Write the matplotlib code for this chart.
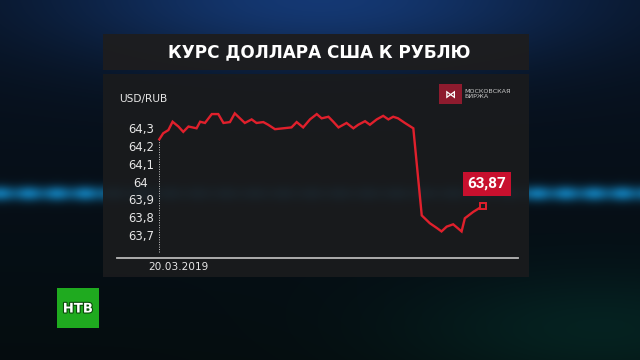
import numpy as np
import matplotlib
matplotlib.use("Agg")
import matplotlib.pyplot as plt
from matplotlib.patches import Rectangle
import matplotlib.transforms as mtransforms
import matplotlib.patheffects as pe

# ---- data ----
title = "КУРС ДОЛЛАРА США К РУБЛЮ"
pair_label = "USD/RUB"
date_label = "20.03.2019"
last_label = "63,87"
exchange_name = "МОСКОВСКАЯ\nБИРЖА"
ytick_values = [63.7, 63.8, 63.9, 64.0, 64.1, 64.2, 64.3]
ytick_labels = ["63,7", "63,8", "63,9", "64", "64,1", "64,2", "64,3"]

# time (arbitrary intraday units) and USD/RUB rate
t = [0.0, 1.2, 2.8, 4.1, 5.9, 7.4, 9.0, 11.5, 12.6, 14.1, 16.2, 18.2, 19.8,
     21.8, 23.3, 24.9, 26.4, 28.5, 30.0, 32.1, 33.6, 35.7, 40.8, 42.4, 44.4,
     46.5, 48.6, 50.1, 52.2, 53.7, 55.3, 57.8, 59.9, 61.4, 63.5, 65.0, 67.1,
     69.1, 70.7, 72.2, 73.7, 75.8, 78.4, 81.0, 83.5, 85.6, 87.1, 88.7, 90.7,
     93.3, 94.3, 96.9, 100.0]
usd_rub = [64.238, 64.272, 64.290, 64.337, 64.310, 64.280, 64.310, 64.300,
           64.337, 64.330, 64.380, 64.380, 64.330, 64.335, 64.384, 64.356,
           64.330, 64.350, 64.330, 64.335, 64.320, 64.295, 64.305, 64.335,
           64.305, 64.350, 64.380, 64.356, 64.365, 64.337, 64.305, 64.330,
           64.300, 64.320, 64.340, 64.320, 64.350, 64.370, 64.350, 64.365,
           64.356, 64.330, 64.300, 63.810, 63.766, 63.740, 63.720, 63.747,
           63.760, 63.720, 63.794, 63.830, 63.865]

W, H = 640, 360
fig = plt.figure(figsize=(6.4, 3.6), dpi=100)
fig.patch.set_facecolor("#060d18")

# ---- background (decorative) ----
bg = fig.add_axes([0, 0, 1, 1], zorder=-10)
yy, xx = np.mgrid[0:H, 0:W].astype(float)
img = np.zeros((H, W, 3))
base_top = np.array([0.03, 0.07, 0.13])
base_bot = np.array([0.02, 0.05, 0.06])
f = (yy / H)[..., None]
img[:] = base_top * (1 - f) + base_bot * f
g = np.exp(-(((xx - 320) / 260) ** 2) - ((yy - 0) / 70) ** 2)
img += g[..., None] * np.array([0.05, 0.15, 0.32])
band = np.exp(-((yy - 193) / 8) ** 2) * (0.75 + 0.25 * np.cos(xx / 9.0) ** 2)
img += band[..., None] * np.array([0.04, 0.38, 0.55])
gg = np.exp(-((yy - 330) / 60) ** 2) * np.exp(-((xx - 600) / 200) ** 2)
img += gg[..., None] * np.array([0.0, 0.08, 0.06])
img = np.clip(img, 0, 1)
bg.imshow(img, extent=[0, W, H, 0], aspect="auto", interpolation="bilinear")
bg.set_xlim(0, W)
bg.set_ylim(H, 0)
bg.axis("off")

# panels
bg.add_patch(Rectangle((103, 34), 426, 36, facecolor="#1d1d1f", edgecolor="none", alpha=0.97))
bg.add_patch(Rectangle((103, 74), 426, 203, facecolor="#1a1b1d", edgecolor="none", alpha=0.93))

# title
bg.text(319.5, 52.5, title, color="white", fontsize=12.2, fontweight="bold",
        ha="center", va="center", family="DejaVu Sans")

# exchange logo
bg.add_patch(Rectangle((439, 84), 22.5, 20, facecolor="#8e1b2e", edgecolor="none"))
bg.text(450.2, 94.5, "⋈", color="white", fontsize=8, ha="center", va="center", fontweight="bold")
bg.text(464, 94, exchange_name, color="#c8c8c8", fontsize=4.6, ha="left", va="center",
        linespacing=1.0)

# NTV logo
bg.add_patch(Rectangle((57, 288), 42, 40, facecolor="#1faa1f", edgecolor="none"))
bg.text(78, 309, "НТВ", color="white", fontsize=9.5, fontweight="bold", ha="center", va="center",
        family="DejaVu Sans",
        path_effects=[pe.withStroke(linewidth=1.6, foreground="#0a4a0a")])

# ---- chart axes ----
ax_left, ax_right = 117, 518
ax_top, ax_bottom = 90, 258
ax = fig.add_axes([ax_left / W, 1 - ax_bottom / H, (ax_right - ax_left) / W,
                   (ax_bottom - ax_top) / H])
ax.set_facecolor("none")
px_per_unit = 3.24
ax.set_xlim(-(159.3 - ax_left) / px_per_unit, (ax_right - 159.3) / px_per_unit)
ypx = 177.8
ax.set_ylim(64.3 - (ax_bottom - 128.3) / ypx, 64.3 + (128.3 - ax_top) / ypx)

for s in ["top", "right", "left"]:
    ax.spines[s].set_visible(False)
ax.spines["bottom"].set_color("#b8b8b8")
ax.spines["bottom"].set_linewidth(1.3)

ax.set_yticks(ytick_values, ytick_labels)
ax.tick_params(axis="y", length=0, pad=-(141 - ax_left) * 0.72, labelcolor="#e6e6e6",
               labelsize=8.4)
for lab in ax.get_yticklabels():
    lab.set_horizontalalignment("center")

ax.set_xticks([t[0]], [date_label])
ax.tick_params(axis="x", length=0, pad=3, labelcolor="#e6e6e6", labelsize=7.6)
for lab in ax.get_xticklabels():
    lab.set_horizontalalignment("left")
    lab.set_transform(lab.get_transform() +
                      mtransforms.ScaledTranslation(-11 / 100, 0, fig.dpi_scale_trans))

# dotted start line
ax.vlines(t[0], ax.get_ylim()[0] + 6 / ypx, usd_rub[0], colors="#cfcfcf",
          linestyles=(0, (1, 1.5)), linewidth=0.7)

ax.plot(t, usd_rub, color="#e0202c", linewidth=1.7, solid_joinstyle="miter")
ax.plot(t[-1], usd_rub[-1], marker="s", markersize=5, markerfacecolor="#1a1b1d",
        markeredgecolor="#e0202c", markeredgewidth=1.4)

ax.annotate(last_label, xy=(t[-1], usd_rub[-1]), xytext=(2.5, 15.6), textcoords="offset points",
            ha="center", va="center", color="white", fontsize=11, fontweight="bold",
            family="Roboto",
            bbox=dict(boxstyle="square,pad=0.32", facecolor="#c8102e", edgecolor="none"))

ax.text(2 / 401, (ax_bottom - 99) / (ax_bottom - ax_top), pair_label, transform=ax.transAxes,
        color="#e6e6e6", fontsize=7.6, ha="left", va="center")

fig.savefig("out.png", dpi=100, facecolor=fig.get_facecolor())
